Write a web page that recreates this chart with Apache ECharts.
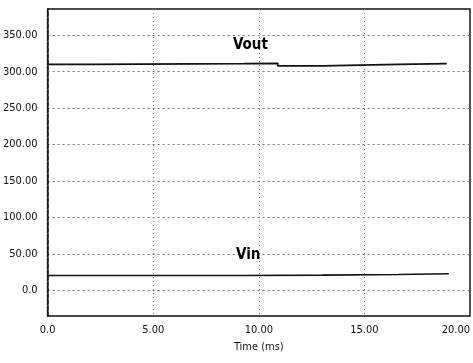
<!DOCTYPE html>
<html>
<head>
<meta charset="utf-8">
<script src="https://cdn.jsdelivr.net/npm/echarts@6/dist/echarts.min.js"></script>
<style>
    html, body { margin: 0; padding: 0; background: #fff; }
    #chart { width: 473px; height: 363px; }
</style>
</head>
<body>
<div id="chart"></div>
<script>
    // values (time in ms, voltage in V)
    var voutTime = [0, 2.05, 9.3, 10.9, 13.0, 16.6, 18.9];
    var voutValue = [310, 311, 311.5, 308, 310, 311, 311];
    var vinTime = [0, 9.4, 13.0, 16.6, 19.0];
    var vinValue = [20.5, 21, 22, 23, 23];
    var yTicks = [0, 50, 100, 150, 200, 250, 300, 350];
    var xTicks = [0, 5, 10, 15, 20];

    function pairs(t, v) {
        return t.map(function (x, i) { return [x, v[i]]; });
    }
    function fmt(v) {
        return v === 0 ? '0.0' : v.toFixed(2);
    }
    // text label pinned to a data point, no visible symbol
    function tag(text, coord) {
        return {
            symbol: 'circle',
            symbolSize: 1,
            itemStyle: { color: 'rgba(0,0,0,0)' },
            data: [{ coord: coord, value: text }],
            label: {
                show: true, position: 'inside', formatter: text,
                fontFamily: font, fontWeight: 'bold', fontSize: 15, color: '#000'
            }
        };
    }

    var font = '"DejaVu Sans Condensed", "Liberation Sans Narrow", Arial, sans-serif';
    var chart = echarts.init(document.getElementById('chart'));
    var option = {
        animation: false,
        backgroundColor: '#fff',
        grid: {
            left: 45, right: 2, top: 9, bottom: 47,
            show: true, borderColor: '#111', borderWidth: 1.5
        },
        xAxis: {
            type: 'value',
            min: 0, max: 20, interval: 5,
            name: 'Time (ms)',
            nameLocation: 'middle',
            nameGap: 26,
            nameTextStyle: { fontFamily: font, fontSize: 11, color: '#111' },
            axisLine: { show: false },
            axisTick: { show: false },
            axisLabel: { formatter: fmt, fontFamily: font, fontSize: 11, color: '#111', margin: 9,
                customValues: xTicks, alignMaxLabel: 'right' },
            splitLine: { show: true, lineStyle: { color: '#777', type: [1, 3], width: 1 } }
        },
        yAxis: {
            type: 'value',
            min: -35, max: 386,
            axisLine: { show: true, lineStyle: { color: '#111', type: [4, 2], width: 1.5 } },
            axisTick: { show: false, customValues: yTicks },
            axisLabel: { formatter: fmt, fontFamily: font, fontSize: 11, color: '#111', margin: 10,
                customValues: yTicks },
            splitLine: { show: true, lineStyle: { color: '#777', type: [2, 3], width: 1 } }
        },
        series: [
            {
                name: 'Vout',
                type: 'line',
                step: 'end',
                symbol: 'none',
                data: pairs(voutTime, voutValue),
                lineStyle: { color: '#111', width: 1.8 },
                markPoint: tag('Vout', [9.6, 337])
            },
            {
                name: 'Vin',
                type: 'line',
                step: 'end',
                symbol: 'none',
                data: pairs(vinTime, vinValue),
                lineStyle: { color: '#111', width: 1.6 },
                markPoint: tag('Vin', [9.5, 48])
            }
        ]
    };
    chart.setOption(option);
</script>
</body>
</html>
